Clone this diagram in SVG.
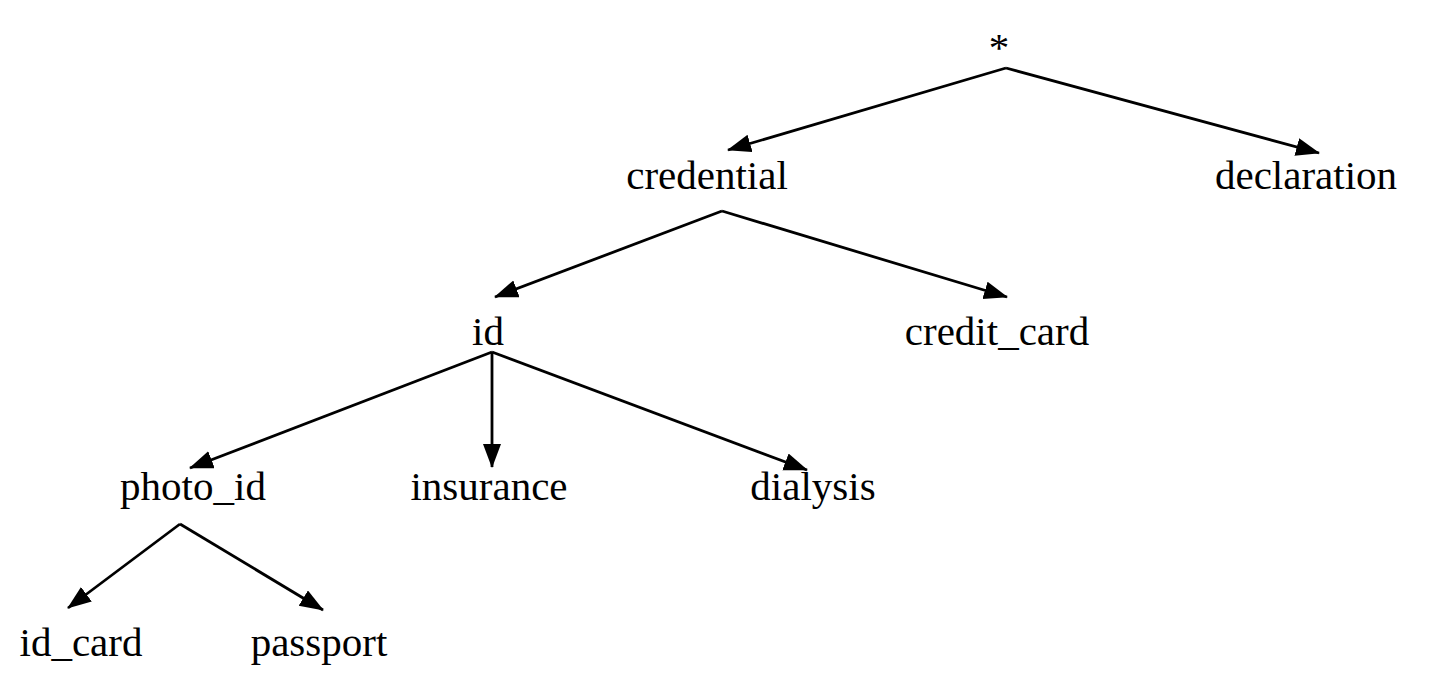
<svg xmlns="http://www.w3.org/2000/svg" width="1437" height="696" viewBox="0 0 1437 696">
<style>
text{font-family:"Liberation Serif","Times New Roman",serif;font-size:41px;fill:#000;text-anchor:middle}
.e{stroke:#000;stroke-width:2.8;fill:none;marker-end:url(#ah)}
</style>
<defs>
<marker id="ah" markerUnits="userSpaceOnUse" markerWidth="24" markerHeight="20" refX="23" refY="9" orient="auto">
<path d="M0,0 L24,9 L0,18 z" fill="#000"/>
</marker>
</defs>
<rect width="1437" height="696" fill="#fff"/>
<g id="connectors">
<path class="e" d="M1006,68 L728,150"/>
<path class="e" d="M1006,68 L1319,153"/>
<path class="e" d="M722,211 L495,297"/>
<path class="e" d="M722,211 L1007,297"/>
<path class="e" d="M492,352 L190,468"/>
<path class="e" d="M492,352 L492,467"/>
<path class="e" d="M492,352 L807,470"/>
<path class="e" d="M180,524 L68,608"/>
<path class="e" d="M180,524 L323,610"/>
</g>
<g id="root"><text x="999" y="61">*</text></g>
<g id="credential"><text x="707" y="189">credential</text></g>
<g id="declaration"><text x="1306" y="189">declaration</text></g>
<g id="id"><text x="488" y="345">id</text></g>
<g id="credit_card"><text x="997" y="345">credit_card</text></g>
<g id="photo_id"><text x="193" y="500">photo_id</text></g>
<g id="insurance"><text x="489" y="500">insurance</text></g>
<g id="dialysis"><text x="813" y="500">dialysis</text></g>
<g id="id_card"><text x="81" y="656">id_card</text></g>
<g id="passport"><text x="319" y="656">passport</text></g>
</svg>
